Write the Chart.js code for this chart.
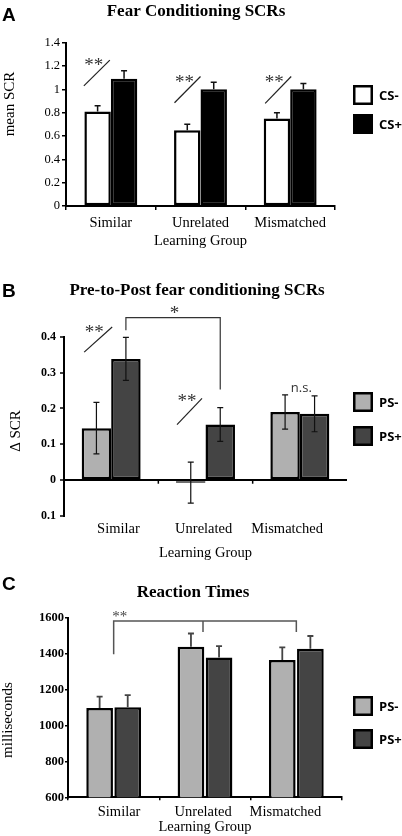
<!DOCTYPE html>
<html>
<head>
<meta charset="utf-8">
<title>SCR and reaction time panels</title>
<script src="https://cdn.jsdelivr.net/npm/chart.js@4.4.1/dist/chart.umd.min.js"></script>
<style>
  html, body { margin: 0; padding: 0; background: #fff; }
  body { width: 402px; height: 836px; position: relative; overflow: hidden; }
  canvas { position: absolute; left: 0; }
</style>
</head>
<body>
<canvas id="chartA" width="402" height="250" style="top:0px"></canvas>
<canvas id="chartB" width="402" height="295" style="top:270px"></canvas>
<canvas id="chartC" width="402" height="276" style="top:560px"></canvas>
<script>
// categories
const groups = ['Similar', 'Unrelated', 'Mismatched'];

// panel A - fear conditioning SCRs
const csMinus = [0.81, 0.65, 0.75];
const csMinusErr = [0.05, 0.05, 0.05];
const csPlus = [1.09, 1.00, 1.00];
const csPlusErr = [0.07, 0.06, 0.05];
const ticksA = ['0', '0.2', '0.4', '0.6', '0.8', '1', '1.2', '1.4'];

// panel B - pre-to-post change
const psMinusB = [0.145, -0.007, 0.19];
const psMinusErrB = [0.072, 0.057, 0.048];
const psPlusB = [0.338, 0.155, 0.185];
const psPlusErrB = [0.06, 0.047, 0.05];
const ticksB = ['0.1', '0', '0.1', '0.2', '0.3', '0.4'];

// panel C - reaction times
const psMinusC = [1097, 1438, 1364];
const psMinusErrC = [63, 74, 71];
const psPlusC = [1101, 1379, 1427];
const psPlusErrC = [68, 63, 71];
const ticksC = ['600', '800', '1000', '1200', '1400', '1600'];

const SERIF = '"Liberation Serif", "Times New Roman", serif';
const SANS = '"Liberation Sans", Arial, sans-serif';
const LEGEND_FONT = 'bold 13px "Open Sans", sans-serif';
Chart.defaults.font.family = SERIF;
Chart.defaults.color = '#000';

// shift a tick label sideways by padding it with spaces
function padLabel(text, shift) {
  const sp = ' '.repeat(Math.round(Math.abs(shift) / 1.8));
  return shift > 0 ? sp + text : text + sp;
}

function xOf(chart, p) {
  if (p.ds !== undefined) return chart.getDatasetMeta(p.ds).data[p.i].x + (p.dx || 0);
  return chart.scales.x.getPixelForValue(p.i) + (p.dx || 0);
}

// error bars, significance marks, legend and panel labels
const decor = {
  id: 'decor',
  afterDatasetsDraw(chart, args, opt) {
    const ctx = chart.ctx, ys = chart.scales.y;
    ctx.save();
    chart.data.datasets.forEach((ds, d) => {
      chart.getDatasetMeta(d).data.forEach((bar, i) => {
        const v = ds.data[i], e = ds.errors[i];
        const top = ys.getPixelForValue(v + e);
        const bot = ys.getPixelForValue(opt.bothWays ? v - e : v);
        ctx.strokeStyle = opt.errColor;
        ctx.lineWidth = opt.errWidth;
        ctx.beginPath();
        ctx.moveTo(bar.x, bot); ctx.lineTo(bar.x, top);
        ctx.moveTo(bar.x - 3, top); ctx.lineTo(bar.x + 3, top);
        if (opt.bothWays) { ctx.moveTo(bar.x - 3, bot); ctx.lineTo(bar.x + 3, bot); }
        ctx.stroke();
      });
    });
    ctx.restore();
  },
  afterDraw(chart, args, opt) {
    const ctx = chart.ctx, ys = chart.scales.y;
    ctx.save();
    (opt.lines || []).forEach(l => {
      ctx.strokeStyle = l.color;
      ctx.lineWidth = l.width;
      ctx.beginPath();
      l.pts.forEach((p, k) => {
        const x = xOf(chart, p), y = ys.getPixelForValue(p.v);
        if (k === 0) ctx.moveTo(x, y); else ctx.lineTo(x, y);
      });
      ctx.stroke();
    });
    (opt.texts || []).forEach(t => {
      ctx.font = t.font;
      ctx.fillStyle = t.color;
      ctx.textAlign = 'center';
      ctx.textBaseline = 'alphabetic';
      ctx.fillText(t.text, xOf(chart, t), ys.getPixelForValue(t.v) + t.shift);
    });
    (opt.labels || []).forEach(t => {
      ctx.save();
      ctx.font = t.font;
      ctx.fillStyle = '#000';
      ctx.textAlign = t.align || 'center';
      ctx.textBaseline = t.rotate ? 'middle' : 'alphabetic';
      ctx.translate(t.x, t.y);
      if (t.rotate) ctx.rotate(-Math.PI / 2);
      ctx.fillText(t.text, 0, 0);
      ctx.restore();
    });
    const lg = opt.legend;
    chart.data.datasets.forEach((ds, d) => {
      const y = lg.ys[d];
      ctx.fillStyle = ds.backgroundColor;
      ctx.fillRect(lg.x, y, lg.size, lg.size);
      ctx.strokeStyle = '#000';
      ctx.lineWidth = 2.5;
      ctx.strokeRect(lg.x + 1.25, y + 1.25, lg.size - 2.5, lg.size - 2.5);
      ctx.fillStyle = '#000';
      ctx.font = LEGEND_FONT;
      ctx.textAlign = 'left';
      ctx.textBaseline = 'middle';
      ctx.fillText(ds.label, lg.x + lg.size + 6, y + lg.size / 2 + 1);
    });
    ctx.restore();
  }
};

function makeChart(id, c) {
  return new Chart(document.getElementById(id), {
    type: 'bar',
    data: { labels: groups, datasets: c.datasets },
    options: {
      responsive: false,
      animation: false,
      events: [],
      datasets: { bar: { categoryPercentage: c.catPct, barPercentage: c.barPct } },
      layout: { padding: { left: 0, right: c.right, top: c.top, bottom: 0 } },
      plugins: {
        legend: { display: false },
        tooltip: { enabled: false },
        title: { display: false },
        decor: c.decor
      },
      scales: {
        x: {
          border: { display: c.xLine, color: '#000', width: 2 },
          grid: { display: c.xLine, drawOnChartArea: false, color: '#000', lineWidth: 1.5, tickLength: c.xTick },
          ticks: {
            font: { size: 14.5 }, color: '#000', padding: c.xPad, maxRotation: 0, autoSkip: false,
            callback: (v, i) => padLabel(groups[i], c.labelShift[i])
          },
          title: { display: true, text: 'Learning Group', font: { size: 14.5 }, color: '#000', padding: { top: 0, bottom: c.xTitlePad } },
          afterFit: s => { s.height = c.xHeight; }
        },
        y: {
          min: c.min, max: c.max,
          border: { color: '#000', width: 2 },
          grid: c.yGrid,
          ticks: {
            stepSize: c.step, font: c.tickFont, color: '#000', padding: c.yPad,
            callback: (v, i) => c.tickLabels[i]
          },
          afterFit: s => { s.width = c.yWidth; }
        }
      }
    },
    plugins: [decor]
  });
}

const barBase = { borderColor: '#000', borderWidth: 2.5, borderSkipped: false };

// A
makeChart('chartA', {
  datasets: [
    Object.assign({ label: 'CS-', data: csMinus, errors: csMinusErr, backgroundColor: '#ffffff' }, barBase),
    Object.assign({ label: 'CS+', data: csPlus, errors: csPlusErr, backgroundColor: '#000000' }, barBase)
  ],
  catPct: 0.59, barPct: 1.0,
  right: 67, top: 42.7, yWidth: 66, xHeight: 44,
  xLine: true, xTick: 4, xPad: 4, xTitlePad: 0, labelShift: [0, 0, 0],
  min: 0, max: 1.4, step: 0.2, tickLabels: ticksA,
  tickFont: { size: 12.5 }, yPad: 2,
  yGrid: { drawOnChartArea: false, color: '#000', lineWidth: 1.5, tickLength: 4 },
  decor: {
    bothWays: false, errColor: '#111', errWidth: 1.5,
    lines: [
      { pts: [{ i: 0, dx: -27, v: 1.03 }, { i: 0, dx: -1, v: 1.25 }], color: '#222', width: 1.2 },
      { pts: [{ i: 1, dx: -26, v: 0.885 }, { i: 1, dx: 0, v: 1.11 }], color: '#222', width: 1.2 },
      { pts: [{ i: 2, dx: -25, v: 0.88 }, { i: 2, dx: 1, v: 1.11 }], color: '#222', width: 1.2 }
    ],
    texts: [
      { text: '**', i: 0, dx: -17, v: 1.235, shift: 9, font: '19px ' + SERIF, color: '#333' },
      { text: '**', i: 1, dx: -16, v: 1.093, shift: 9, font: '19px ' + SERIF, color: '#333' },
      { text: '**', i: 2, dx: -16, v: 1.093, shift: 9, font: '19px ' + SERIF, color: '#333' }
    ],
    labels: [
      { text: 'A', x: 2, y: 21, align: 'left', font: 'bold 19px ' + SANS },
      { text: 'Fear Conditioning SCRs', x: 196, y: 16, font: 'bold 17px ' + SERIF },
      { text: 'mean SCR', x: 10, y: 104, rotate: true, font: '15px ' + SERIF }
    ],
    legend: { x: 353, ys: [85, 114], size: 20 }
  }
});

// B
makeChart('chartB', {
  datasets: [
    Object.assign({ label: 'PS-', data: psMinusB, errors: psMinusErrB, backgroundColor: '#b0b0b0' }, barBase),
    Object.assign({ label: 'PS+', data: psPlusB, errors: psPlusErrB, backgroundColor: '#444444' }, barBase)
  ],
  catPct: 0.625, barPct: 1.0,
  right: 55, top: 66.7, yWidth: 64, xHeight: 49,
  xLine: false, xTick: 0, xPad: 4, xTitlePad: 3.3, labelShift: [8, -2, -12],
  min: -0.1, max: 0.4, step: 0.1, tickLabels: ticksB,
  tickFont: { size: 12, weight: 'bold' }, yPad: 4,
  yGrid: {
    drawOnChartArea: true, lineWidth: 2, tickLength: 4, tickColor: '#000', tickWidth: 1.5,
    color: ctx => (ctx.tick && ctx.tick.value === 0 ? '#000' : 'rgba(0,0,0,0)')
  },
  decor: {
    bothWays: true, errColor: '#111', errWidth: 1.2,
    lines: [
      { pts: [{ i: 0.5, v: 0 }, { i: 0.5, v: -0.01 }], color: '#000', width: 1.5 },
      { pts: [{ i: 1.5, v: 0 }, { i: 1.5, v: -0.01 }], color: '#000', width: 1.5 },
      { pts: [{ i: 0, dx: -27, v: 0.357 }, { i: 0, dx: 1, v: 0.427 }], color: '#222', width: 1.2 },
      { pts: [{ i: 1, dx: -28.5, v: 0.155 }, { i: 1, dx: -3.5, v: 0.228 }], color: '#222', width: 1.2 },
      { pts: [{ ds: 1, i: 0, v: 0.418 }, { ds: 1, i: 0, v: 0.453 }, { ds: 1, i: 1, v: 0.453 }, { ds: 1, i: 1, v: 0.253 }], color: '#333', width: 1.2 }
    ],
    texts: [
      { text: '**', i: 0, dx: -17, v: 0.421, shift: 9, font: '19px ' + SERIF, color: '#333' },
      { text: '**', i: 1, dx: -18.5, v: 0.228, shift: 9, font: '19px ' + SERIF, color: '#333' },
      { text: '*', i: 1, dx: -31, v: 0.475, shift: 9, font: '19px ' + SERIF, color: '#333' },
      { text: 'n.s.', i: 2, dx: 1.5, v: 0.256, shift: 4, font: '13px "Open Sans", sans-serif', color: '#333' }
    ],
    labels: [
      { text: 'B', x: 2, y: 27, align: 'left', font: 'bold 19px ' + SANS },
      { text: 'Pre-to-Post fear conditioning SCRs', x: 197, y: 25, font: 'bold 17px ' + SERIF },
      { text: '\u0394 SCR', x: 16, y: 161, rotate: true, font: '15px ' + SERIF }
    ],
    legend: { x: 353, ys: [122, 156], size: 20 }
  }
});

// C
makeChart('chartC', {
  datasets: [
    Object.assign({ label: 'PS-', data: psMinusC, errors: psMinusErrC, backgroundColor: '#b0b0b0' }, barBase),
    Object.assign({ label: 'PS+', data: psPlusC, errors: psPlusErrC, backgroundColor: '#444444' }, barBase)
  ],
  catPct: 0.615, barPct: 0.95,
  right: 60, top: 57.7, yWidth: 68, xHeight: 38.7,
  xLine: true, xTick: 3, xPad: 3, xTitlePad: 0.3, labelShift: [5, -2, -10],
  min: 600, max: 1600, step: 200, tickLabels: ticksC,
  tickFont: { size: 12.5, weight: 'bold' }, yPad: 1,
  yGrid: { drawOnChartArea: false, color: '#000', lineWidth: 1.5, tickLength: 3 },
  decor: {
    bothWays: false, errColor: '#444', errWidth: 1.8,
    lines: [
      { pts: [{ i: 0, v: 1397 }, { i: 0, v: 1581 }, { i: 2, v: 1581 }, { i: 2, v: 1521 }], color: '#555', width: 1.5 },
      { pts: [{ i: 1, dx: -2, v: 1581 }, { i: 1, dx: -2, v: 1521 }], color: '#555', width: 1.5 }
    ],
    texts: [
      { text: '**', i: 0, dx: 6, v: 1620, shift: 7, font: '15px ' + SERIF, color: '#444' }
    ],
    labels: [
      { text: 'C', x: 2, y: 30, align: 'left', font: 'bold 19px ' + SANS },
      { text: 'Reaction Times', x: 193, y: 37, font: 'bold 17px ' + SERIF },
      { text: 'milliseconds', x: 8, y: 160, rotate: true, font: '15px ' + SERIF }
    ],
    legend: { x: 353, ys: [136, 169], size: 20 }
  }
});
</script>
</body>
</html>
